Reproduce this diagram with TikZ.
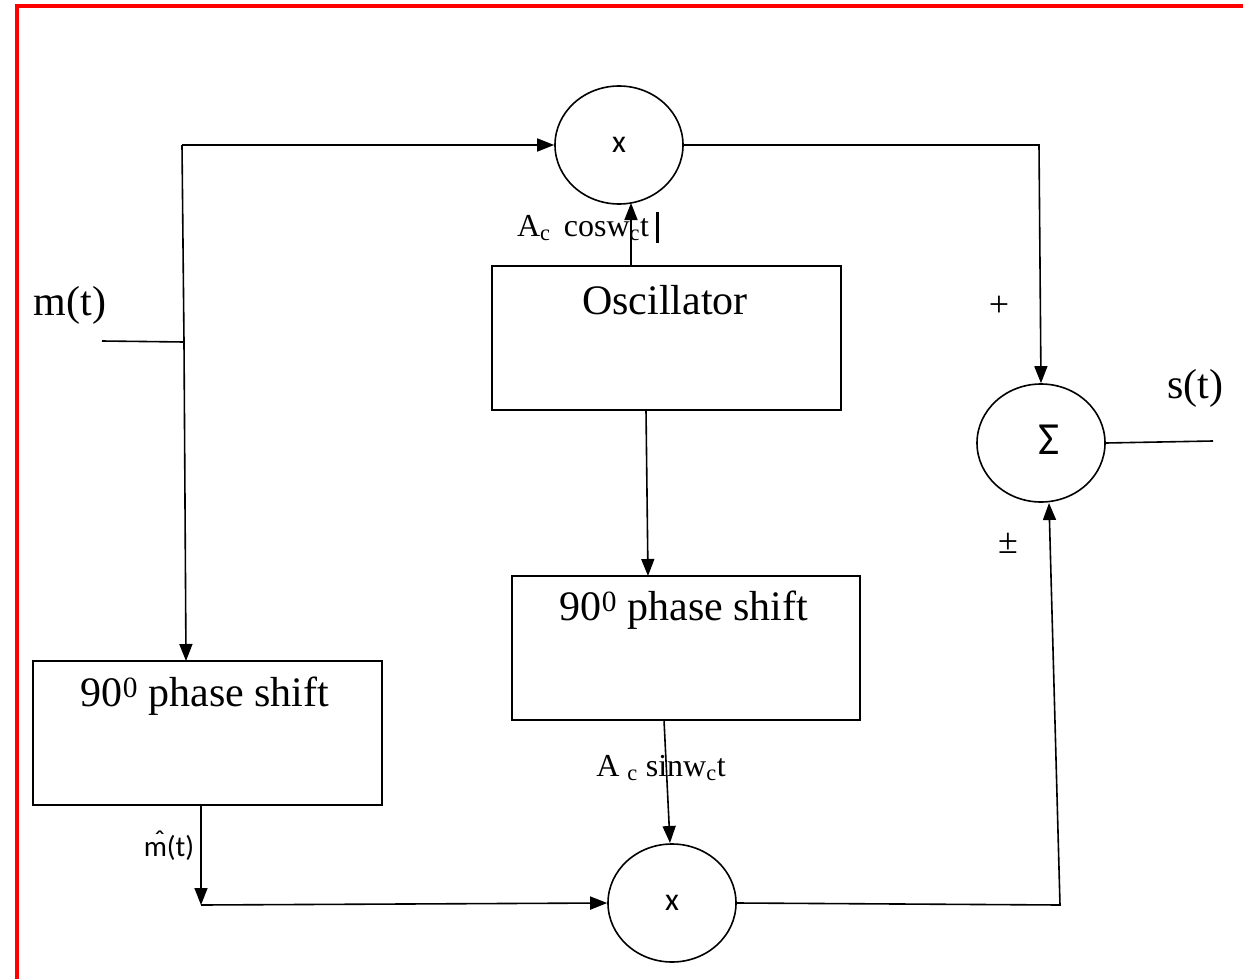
\documentclass[tikz,border=0pt]{standalone}
\usepackage{fontspec}
\setmainfont{Liberation Serif}
\newfontfamily\calib{Carlito}
\usetikzlibrary{arrows.meta,shapes.geometric,calc}
\newcommand{\hatm}{{\setbox0\hbox{m}\rlap{\hbox to \wd0{\hss\raisebox{0.45ex}{ˆ}\hskip0.05em}}m}}
\begin{document}
\begin{tikzpicture}[x=1pt,y=-1pt,
  line width=1.6pt,
  arr/.style={-{Triangle[length=17pt,width=13pt]}},
  circ/.style={draw,ellipse,minimum width=128pt,minimum height=118pt,inner sep=0pt,font=\calib\fontsize{32}{36}\selectfont},
  blk/.style={draw,rectangle,inner sep=0pt},
  big/.style={inner sep=0pt,font=\fontsize{42}{46}\selectfont},
  lab/.style={inner sep=0pt,font=\fontsize{32}{36}\selectfont},
  sgn/.style={inner sep=0pt,font=\fontsize{36}{40}\selectfont}]
\useasboundingbox (0,0) rectangle (1243,979);
% red frame
\draw[red,line width=4pt] (17,979) -- (17,6) -- (1243,6);
% blocks
\node[circ] (mt) at (619,145) {x};
\node[circ] (mb) at (672,903) {x};
\node[circ] (sum) at (1041,443) {};
\node[inner sep=0pt,font=\calib\fontsize{46}{50}\selectfont] (sumlab) at (1049,440) {Σ};
\node[blk,minimum width=349pt,minimum height=144pt] (osc) at (666.5,338) {};
\node[blk,minimum width=348pt,minimum height=144pt] (pm) at (686,648) {};
\node[blk,minimum width=349pt,minimum height=144pt] (pl) at (207.5,733) {};
% texts
\node[big] (osct) at (665,300) {Oscillator};
\node[big] (pmt) at (684,610) {90\textsuperscript{0} phase shift};
\node[big] (plt) at (205,696) {90\textsuperscript{0} phase shift};
\node[big] (mtl) at (70,305) {m(t)};
\node[big] (stl) at (1195,388) {s(t)};
\node[lab] (cosl) at (583,228) {A\textsubscript{c}\, cosw\textsubscript{c}t};
\node[lab] (sinl) at (661,768) {A \textsubscript{c} sinw\textsubscript{c}t};
\node[inner sep=0pt,font=\calib\fontsize{29}{32}\selectfont] (mhat) at (169,846) {\hatm(t)};
\node[sgn] (plus) at (999,306) {+};
\node[sgn] (pm2) at (1008,543) {±};
% cursor bar
\draw[line width=3pt] (657,212) -- (657,243);
% coordinates
\coordinate (split) at (182,145);
\coordinate (junc) at (184,342);
\coordinate (min) at (102,341);
\coordinate (plin) at (186,661);
\coordinate (oscup) at (631,266);
\coordinate (mtdn) at (631,203);
\coordinate (oscdn) at (646,410);
\coordinate (pmup) at (648,576);
\coordinate (pmdn) at (664,720);
\coordinate (mbup) at (670,843);
\coordinate (pldn) at (201,805);
\coordinate (plcorner) at (201,905);
\coordinate (trc) at (1039,145);
\coordinate (brc) at (1060,905);
\coordinate (sumin2) at (1049,503);
\coordinate (sout) at (1213,441);
% connectors
\draw (min) -- (junc);
\draw[arr] (split) -- (mt.west);
\draw[arr] (split) -- (junc) -- (plin);
\draw[arr] (oscup) -- (mtdn);
\draw[arr] (oscdn) -- (pmup);
\draw[arr] (pmdn) -- (mbup);
\draw[arr] (pldn) -- (plcorner);
\draw[arr] (plcorner) -- (mb.west);
\draw[arr] (mt.east) -- (trc) -- (sum.north);
\draw[arr] (mb.east) -- (brc) -- (sumin2);
\draw (sum.east) -- (sout);
\end{tikzpicture}
\end{document}
